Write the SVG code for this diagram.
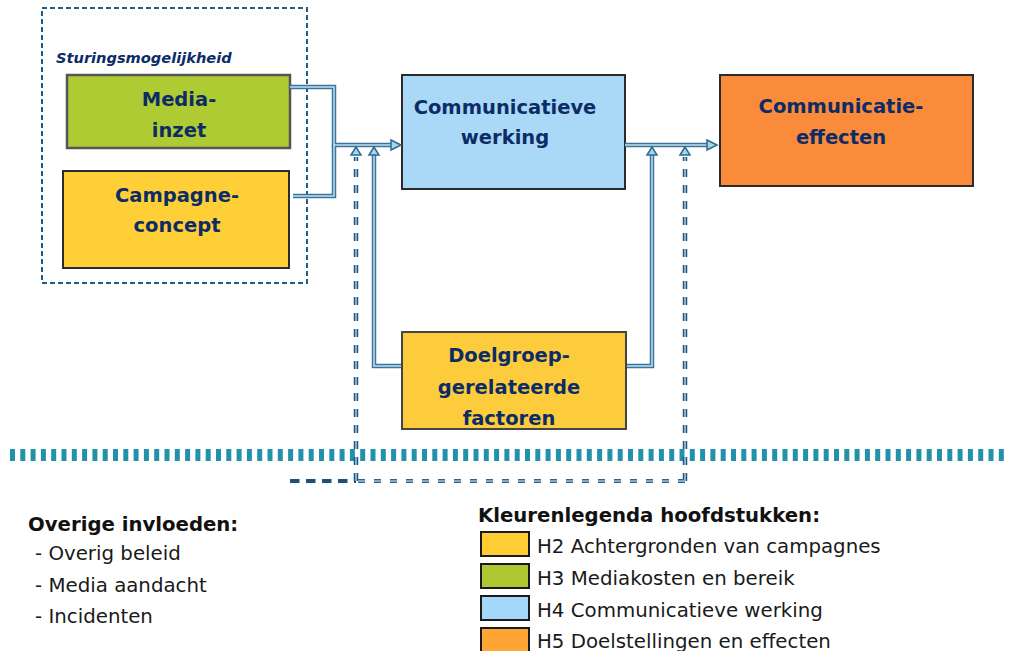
<svg xmlns="http://www.w3.org/2000/svg" width="1009" height="651" viewBox="0 0 1009 651">
<style>
.box{stroke:#2b2b2b;stroke-width:2}
.bt{font-family:"DejaVu Sans","Liberation Sans",sans-serif;font-weight:bold;font-size:19.5px;fill:#0d2c66;text-anchor:middle}
.po{fill:none;stroke:#3a739c;stroke-width:4.5}
.pi{fill:none;stroke:#c2e1ee;stroke-width:1.5}
.dpo{fill:none;stroke:#24547f;stroke-width:4.5;stroke-dasharray:8 8}
.dpi{fill:none;stroke:#8fb9d3;stroke-width:1.8;stroke-dasharray:8 8}
.ah{fill:#a9d6e6;stroke:#2e6a93;stroke-width:1.5;stroke-linejoin:miter}
.lg{font-family:"DejaVu Sans","Liberation Sans",sans-serif;font-size:19.8px;fill:#1a1a1a}
.lgb{font-family:"DejaVu Sans","Liberation Sans",sans-serif;font-size:19.7px;font-weight:bold;fill:#111}
.sw{stroke:#1a1a1a;stroke-width:2}
</style>
<rect width="1009" height="651" fill="#ffffff"/>

<!-- separator -->
<line x1="10" y1="455" x2="1009" y2="455" stroke="#2391ab" stroke-width="12" stroke-dasharray="5 5.3"/>

<!-- control group -->
<g id="sturing">
  <rect x="42" y="8" width="265" height="275" fill="none" stroke="#1f5c8a" stroke-width="2" stroke-dasharray="5 3"/>
  <text x="56" y="63" font-family="'DejaVu Sans','Liberation Sans',sans-serif" font-weight="bold" font-style="italic" font-size="14.6" fill="#0d2c66">Sturingsmogelijkheid</text>
</g>

<g id="media-inzet">
  <rect x="67" y="75" width="223" height="73" fill="#aecb34" stroke="#555" stroke-width="2.5"/>
  <text class="bt" x="179" y="106">Media-</text>
  <text class="bt" x="179" y="137">inzet</text>
</g>

<g id="campagne-concept">
  <rect class="box" x="63" y="171" width="226" height="97" fill="#fecf36"/>
  <text class="bt" x="177" y="202">Campagne-</text>
  <text class="bt" x="177" y="232">concept</text>
</g>

<g id="communicatieve-werking">
  <rect class="box" x="402" y="75" width="223" height="114" fill="#aad8f7"/>
  <text class="bt" x="505" y="114">Communicatieve</text>
  <text class="bt" x="505" y="144">werking</text>
</g>

<g id="communicatie-effecten">
  <rect class="box" x="720" y="75" width="253" height="111" fill="#f98b3a"/>
  <text class="bt" x="841" y="113">Communicatie-</text>
  <text class="bt" x="841" y="144">effecten</text>
</g>

<g id="connectors">
  <path class="po" d="M290,87 H334 V145 H392"/>
  <path class="po" d="M293,196 H334 V145"/>
  <path class="po" d="M402,366 H374 V155"/>
  <path class="po" d="M626,366 H652 V155"/>
  <path class="po" d="M625,145 H708"/>
  <path class="pi" d="M290,87 H334 V145 H392"/>
  <path class="pi" d="M293,196 H334 V145"/>
  <path class="pi" d="M402,366 H374 V155"/>
  <path class="pi" d="M626,366 H652 V155"/>
  <path class="pi" d="M625,145 H708"/>
  <path d="M290,481 H356" fill="none" stroke="#1f4f7a" stroke-width="4" stroke-dasharray="9.5 6.5"/>
  <path class="dpo" d="M356,481 V157"/>
  <path class="dpo" d="M685,481 V157"/>
  <path d="M358,481 H685" fill="none" stroke="#2f6390" stroke-width="4" stroke-dasharray="7 9"/>
  <path d="M358,481 H685" fill="none" stroke="#9cc4da" stroke-width="1.5" stroke-dasharray="7 9"/>
  <path class="dpi" d="M356,481 V157"/>
  <path class="dpi" d="M685,481 V157"/>
  <polygon class="ah" points="391,140 401,145 391,150"/>
  <polygon class="ah" points="707,140 717,145 707,150"/>
  <polygon class="ah" points="351,155 356,147 361,155"/>
  <polygon class="ah" points="369,155 374,147 379,155"/>
  <polygon class="ah" points="647,155 652,147 657,155"/>
  <polygon class="ah" points="680,155 685,147 690,155"/>
</g>

<g id="doelgroep">
  <rect x="402" y="332" width="224" height="97" fill="#fccc3c" stroke="#444" stroke-width="2"/>
  <text class="bt" x="509" y="362">Doelgroep-</text>
  <text class="bt" x="509" y="394">gerelateerde</text>
  <text class="bt" x="509" y="425">factoren</text>
</g>

<g id="overige">
  <text class="lgb" x="28" y="531">Overige invloeden:</text>
  <text class="lg" x="35" y="560">- Overig beleid</text>
  <text class="lg" x="35" y="592">- Media aandacht</text>
  <text class="lg" x="35" y="623">- Incidenten</text>
</g>

<g id="legenda">
  <text class="lgb" x="478" y="522">Kleurenlegenda hoofdstukken:</text>
  <rect class="sw" x="481" y="532" width="48" height="24" fill="#ffcc33"/>
  <text class="lg" x="537" y="553">H2 Achtergronden van campagnes</text>
  <rect class="sw" x="481" y="564" width="48" height="24" fill="#afc832"/>
  <text class="lg" x="537" y="585">H3 Mediakosten en bereik</text>
  <rect class="sw" x="481" y="596" width="48" height="24" fill="#a6d8fb"/>
  <text class="lg" x="537" y="617">H4 Communicatieve werking</text>
  <rect class="sw" x="481" y="628" width="48" height="24" fill="#ffa533"/>
  <text class="lg" x="537" y="648">H5 Doelstellingen en effecten</text>
</g>
</svg>
